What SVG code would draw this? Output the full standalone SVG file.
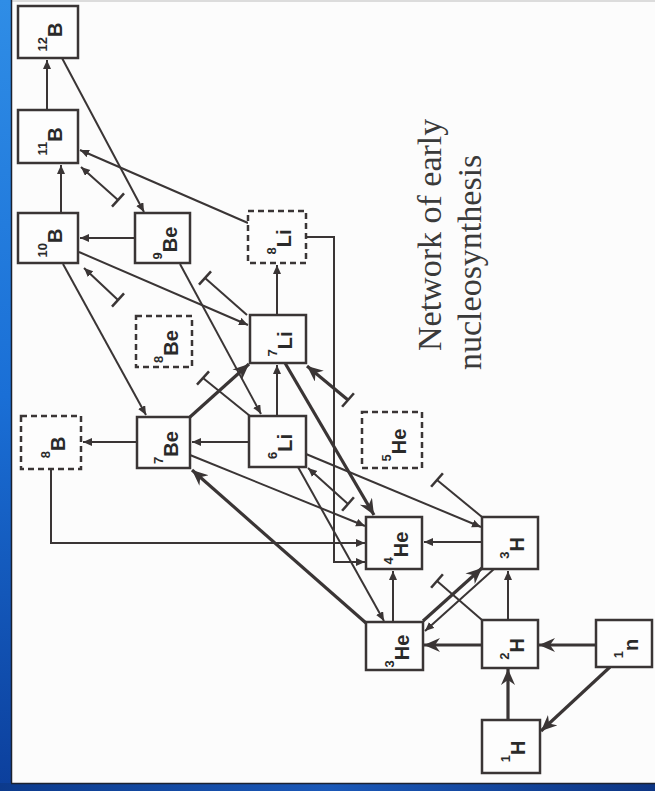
<svg xmlns="http://www.w3.org/2000/svg" width="655" height="791" viewBox="0 0 655 791">
<defs>
<linearGradient id="gl" x1="0" y1="0" x2="0" y2="1">
<stop offset="0" stop-color="#2f8de6"/><stop offset="0.5" stop-color="#1a6fd6"/><stop offset="1" stop-color="#0c3f9c"/>
</linearGradient>
<linearGradient id="gb" x1="0" y1="0" x2="1" y2="0">
<stop offset="0" stop-color="#0c3a8c"/><stop offset="0.5" stop-color="#1a58b8"/><stop offset="1" stop-color="#0d3584"/>
</linearGradient>
<marker id="a" markerUnits="userSpaceOnUse" markerWidth="10" markerHeight="10" refX="9" refY="4" orient="auto">
<path d="M0,0 L9,4 L0,8 Z" fill="#3a3535"/>
</marker>
<marker id="t" markerUnits="userSpaceOnUse" markerWidth="18" markerHeight="16" refX="16" refY="7" orient="auto">
<path d="M0,0 L16,7 L0,14 L5,7 Z" fill="#3a3535"/>
</marker>
<style>
.bx{fill:#fdfdfd;stroke:#3a3535;stroke-width:2.5}
.ds{fill:#fdfdfd;stroke:#3a3535;stroke-width:2.5;stroke-dasharray:6 4}
.lb{font-family:"Liberation Sans",Arial,sans-serif;font-weight:bold;font-size:20px;fill:#2a2a2a;text-anchor:middle}
.sp{font-size:13px}
.ln{fill:none;stroke:#3a3535;stroke-width:2}
.ar{marker-end:url(#a)}
.th{fill:none;stroke:#3a3535;stroke-width:3.2;marker-end:url(#t)}
.tb{stroke:#3a3535;stroke-width:2.5}
.ti{font-family:"Liberation Serif","Times New Roman",serif;font-size:34px;fill:#3a3a3a}
</style>
</defs>
<rect x="0" y="0" width="655" height="791" fill="#fcfcfc"/>
<line x1="12" y1="1" x2="655" y2="1" stroke="#dcdcdc" stroke-width="2"/>
<rect x="0" y="0" width="12" height="791" fill="url(#gl)"/>
<line x1="11.5" y1="0" x2="11.5" y2="784" stroke="#1c2230" stroke-width="1.5"/>
<rect x="0" y="783" width="655" height="8" fill="url(#gb)"/>
<line x1="11" y1="783.5" x2="655" y2="783.5" stroke="#1c2230" stroke-width="1.5"/>

<g id="connectors">
<path class="ln ar" d="M47,110 L47,60"/>
<path class="ln ar" d="M62,58 L144,212"/>
<path class="ln ar" d="M61,213 L61,165"/>
<path class="ln ar" d="M248,223 L80,150"/>
<path class="ln ar" d="M118,200 L81,167"/>
<line class="tb" x1="124" y1="193.3" x2="112" y2="206.7"/>
<path class="ln" d="M247,315 L205,278"/>
<line class="tb" x1="211" y1="271.3" x2="199" y2="284.7"/>
<path class="ln ar" d="M135,238 L80,238"/>
<path class="ln ar" d="M277,315 L277,265"/>
<path class="ln ar" d="M306,237 L334,237 L334,562 L365,562"/>
<path class="ln ar" d="M79,252 L248,325"/>
<path class="ln ar" d="M118,300 L84,268"/>
<line class="tb" x1="124" y1="293.3" x2="112" y2="306.7"/>
<path class="ln" d="M250,416 L203,378"/>
<line class="tb" x1="209" y1="371.3" x2="197" y2="384.7"/>
<path class="ln ar" d="M63,264 L146,415"/>
<path class="ln ar" d="M180,264 L261,414"/>
<path class="ln ar" d="M277,416 L277,365"/>
<path class="th" d="M190,417 L249,364"/>
<path class="ln ar" d="M137,442 L83,442"/>
<path class="ln ar" d="M249,442 L192,442"/>
<path class="ln ar" d="M51,469 L51,543 L365,543"/>
<path class="ln ar" d="M190,455 L365,526"/>
<path class="th" d="M366,623 L192,470"/>
<path class="th" d="M285,363 L374,515"/>
<path class="ln" stroke-width="2.4" d="M482,517 L437,480"/>
<line class="tb" x1="442.9" y1="473.2" x2="431.1" y2="486.8"/>
<path class="th" d="M348,400 L307,366"/>
<line class="tb" x1="353.9" y1="393.2" x2="342.1" y2="406.8"/>
<path class="ln" d="M482,620 L437,581"/>
<line class="tb" x1="442.9" y1="574.2" x2="431.1" y2="587.8"/>
<path class="ln ar" d="M348,504 L308,468"/>
<line class="tb" x1="353.9" y1="497.2" x2="342.1" y2="510.8"/>
<path class="ln ar" d="M306,454 L481,527"/>
<path class="ln ar" d="M298,467 L384,621"/>
<path class="ln ar" d="M393,622 L393,571"/>
<path class="ln ar" d="M482,542 L424,542"/>
<path class="ln ar" d="M508,620 L508,571"/>
<path class="th" d="M482,645 L424,645"/>
<path class="th" d="M596,645 L539,645"/>
<path class="th" d="M508,720 L508,669"/>
<path class="th" d="M610,667 L541,731"/>
<path class="th" d="M423,621 L482,568"/>
<path class="ln ar" d="M494,569 L425,631"/>
</g>

<g id="n12B"><rect class="bx" x="18" y="6" width="60" height="52"/><text class="lb" transform="rotate(-90 48 32)" x="43" y="46"><tspan class="sp" dy="-15">12</tspan><tspan dy="15">B</tspan></text></g>
<g id="n11B"><rect class="bx" x="18" y="110" width="60" height="53"/><text class="lb" transform="rotate(-90 48 136.5)" x="43" y="150.5"><tspan class="sp" dy="-15">11</tspan><tspan dy="15">B</tspan></text></g>
<g id="n10B"><rect class="bx" x="18" y="213" width="60" height="50"/><text class="lb" transform="rotate(-90 48 238)" x="43" y="252"><tspan class="sp" dy="-15">10</tspan><tspan dy="15">B</tspan></text></g>
<g id="n9Be"><rect class="bx" x="135" y="213" width="55" height="50"/><text class="lb" transform="rotate(-90 162.5 238)" x="157.5" y="252"><tspan class="sp" dy="-15">9</tspan><tspan dy="15">Be</tspan></text></g>
<g id="n8Li"><rect class="ds" x="248" y="211" width="58" height="52"/><text class="lb" transform="rotate(-90 277 237)" x="272" y="251"><tspan class="sp" dy="-15">8</tspan><tspan dy="15">Li</tspan></text></g>
<g id="n8Be"><rect class="ds" x="136" y="316" width="56" height="51"/><text class="lb" transform="rotate(-90 164 341.5)" x="159" y="355.5"><tspan class="sp" dy="-15">8</tspan><tspan dy="15">Be</tspan></text></g>
<g id="n7Li"><rect class="bx" x="250" y="315" width="56" height="48"/><text class="lb" transform="rotate(-90 278 339)" x="273" y="353"><tspan class="sp" dy="-15">7</tspan><tspan dy="15">Li</tspan></text></g>
<g id="n8B"><rect class="ds" x="21" y="416" width="60" height="53"/><text class="lb" transform="rotate(-90 51 442.5)" x="46" y="456.5"><tspan class="sp" dy="-15">8</tspan><tspan dy="15">B</tspan></text></g>
<g id="n7Be"><rect class="bx" x="137" y="417" width="53" height="51"/><text class="lb" transform="rotate(-90 163.5 442.5)" x="158.5" y="456.5"><tspan class="sp" dy="-15">7</tspan><tspan dy="15">Be</tspan></text></g>
<g id="n6Li"><rect class="bx" x="249" y="416" width="57" height="51"/><text class="lb" transform="rotate(-90 277.5 441.5)" x="272.5" y="455.5"><tspan class="sp" dy="-15">6</tspan><tspan dy="15">Li</tspan></text></g>
<g id="n5He"><rect class="ds" x="362" y="412" width="60" height="56"/><text class="lb" transform="rotate(-90 392 440)" x="387" y="454"><tspan class="sp" dy="-15">5</tspan><tspan dy="15">He</tspan></text></g>
<g id="n4He"><rect class="bx" x="366" y="517" width="56" height="52"/><text class="lb" transform="rotate(-90 394 543)" x="389" y="557"><tspan class="sp" dy="-15">4</tspan><tspan dy="15">He</tspan></text></g>
<g id="n3H"><rect class="bx" x="482" y="517" width="56" height="52"/><text class="lb" transform="rotate(-90 510 543)" x="505" y="557"><tspan class="sp" dy="-15">3</tspan><tspan dy="15">H</tspan></text></g>
<g id="n3He"><rect class="bx" x="366" y="622" width="57" height="48"/><text class="lb" transform="rotate(-90 394.5 646)" x="389.5" y="660"><tspan class="sp" dy="-15">3</tspan><tspan dy="15">He</tspan></text></g>
<g id="n2H"><rect class="bx" x="482" y="620" width="56" height="48"/><text class="lb" transform="rotate(-90 510 644)" x="505" y="658"><tspan class="sp" dy="-15">2</tspan><tspan dy="15">H</tspan></text></g>
<g id="nn"><rect class="bx" x="596" y="620" width="56" height="47"/><text class="lb" transform="rotate(-90 624 643.5)" x="619" y="657.5"><tspan class="sp" dy="-15">1</tspan><tspan dy="15">n</tspan></text></g>
<g id="n1H"><rect class="bx" x="482" y="720" width="58" height="53"/><text class="lb" transform="rotate(-90 511 746.5)" x="506" y="760.5"><tspan class="sp" dy="-15">1</tspan><tspan dy="15">H</tspan></text></g>

<g id="title">
<text class="ti" transform="translate(441,351) rotate(-90)">Network of early</text>
<text class="ti" transform="translate(481,370) rotate(-90)">nucleosynthesis</text>
</g>
</svg>
